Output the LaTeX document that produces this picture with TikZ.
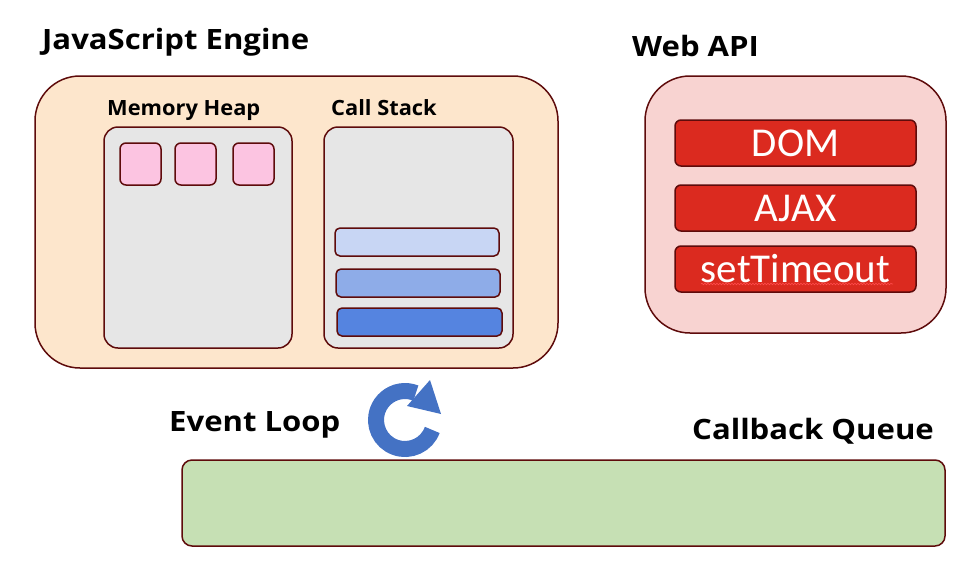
\documentclass[tikz,border=0pt]{standalone}
\usepackage{fontspec}
\setmainfont{Carlito}
\newfontfamily\headfont{Open Sans}[FakeStretch=1.11]
\newfontfamily\labelfont{Open Sans}[FakeStretch=1.04]
\usetikzlibrary{decorations.pathmorphing}
\definecolor{edge}{HTML}{5E0B0B}
\definecolor{engine}{HTML}{FDE6CC}
\definecolor{heap}{HTML}{E6E6E6}
\definecolor{cell}{HTML}{FCC4E1}
\definecolor{frameone}{HTML}{C8D6F4}
\definecolor{frametwo}{HTML}{8EACE8}
\definecolor{framethree}{HTML}{5584E0}
\definecolor{webapi}{HTML}{F8D3D1}
\definecolor{apired}{HTML}{DB2A1F}
\definecolor{queue}{HTML}{C6E0B4}
\definecolor{loopblue}{HTML}{4472C4}
\begin{document}
\begin{tikzpicture}[x=1pt,y=-1pt,
    box/.style={draw=edge,line width=1.5pt,inner sep=0pt,rounded corners=#1},
    title/.style={font=\headfont\bfseries\fontsize{28}{30}\selectfont,inner sep=0pt,anchor=base west},
    label/.style={font=\labelfont\bfseries\fontsize{21}{24}\selectfont,inner sep=0pt,anchor=base west},
    apibox/.style={box=6,fill=apired,minimum width=241,minimum height=46,text=white,
      font=\fontsize{41}{44}\selectfont}]
  \useasboundingbox (0,0) rectangle (976,563);
  % javascript engine
  \node[box=45,fill=engine,minimum width=523,minimum height=292] (engine) at (296.5,222) {};
  \node[title] (enginetitle) at (42,49.5) {JavaScript Engine};
  \node[box=14,fill=heap,minimum width=188,minimum height=221] (heap) at (198,237.5) {};
  \node[label] (heaplabel) at (107,115.7) {Memory Heap};
  \node[box=14,fill=heap,minimum width=189,minimum height=221] (stack) at (418.5,237.5) {};
  \node[label] (stacklabel) at (331,115.7) {Call Stack};
  \node[box=6,fill=cell,minimum width=41,minimum height=42] (cell1) at (140.5,164) {};
  \node[box=6,fill=cell,minimum width=41,minimum height=42] (cell2) at (195.5,164) {};
  \node[box=6,fill=cell,minimum width=41,minimum height=42] (cell3) at (253.5,164) {};
  \node[box=5,fill=frameone,minimum width=164,minimum height=28] (frame1) at (417,242) {};
  \node[box=5,fill=frametwo,minimum width=164,minimum height=28] (frame2) at (418,283) {};
  \node[box=5,fill=framethree,minimum width=165,minimum height=28] (frame3) at (419.5,322) {};
  % web api
  \node[box=45,fill=webapi,minimum width=301,minimum height=257] (web) at (795.5,204.5) {};
  \node[title] (webtitle) at (632,56.7) {Web API};
  \node[apibox] (dom) at (795.5,143) {DOM};
  \node[apibox] (ajax) at (795.5,208) {AJAX};
  \node[apibox] (timer) at (795.5,269) {setTimeout};
  \coordinate (squigglestart) at (701,284);
  \coordinate (squiggleend) at (893,284);
  \draw[red!70!white,line width=0.6pt,decorate,decoration={snake,amplitude=0.8pt,segment length=3pt}]
    (squigglestart) -- (squiggleend);
  % event loop
  \node[title] (looplabel) at (169,431.7) {Event Loop};
  \coordinate (loop) at (405,420);
  \draw[loopblue,line width=16pt] (loop) ++(20:29) arc (20:292:29);
  \fill[loopblue] (407,406) -- (430,380) -- (441,414) -- cycle;
  % callback queue
  \node[title] (queuelabel) at (692,439) {Callback Queue};
  \node[box=10,fill=queue,minimum width=763,minimum height=86] (queue) at (563.5,503) {};
\end{tikzpicture}
\end{document}
